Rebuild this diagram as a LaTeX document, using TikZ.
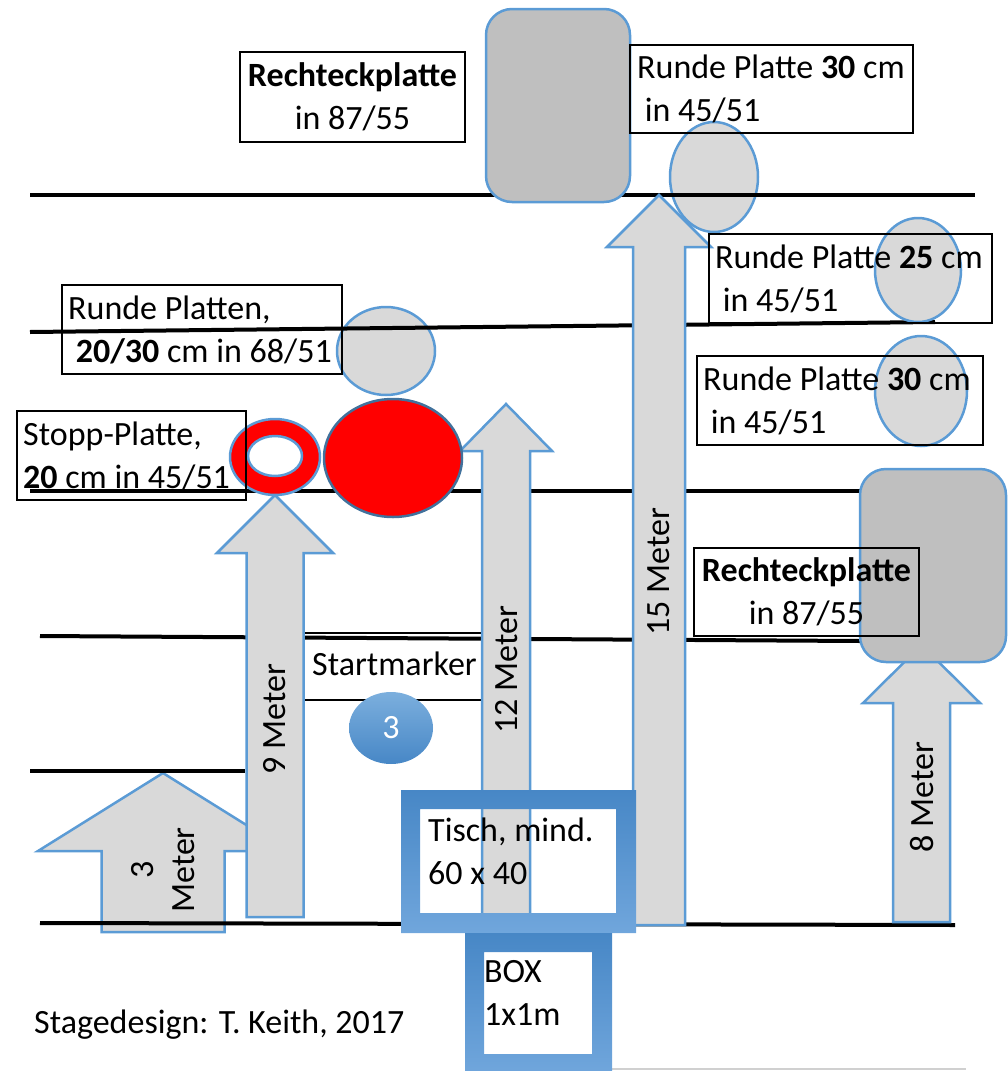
\documentclass[tikz,border=0pt]{standalone}
\usepackage{fontspec}
\setmainfont{Carlito}
\definecolor{platebg}{HTML}{D9D9D9}
\definecolor{rectbg}{HTML}{BFBFBF}
\definecolor{edgeblue}{HTML}{5B9BD5}
\definecolor{darkedge}{HTML}{41719C}
\definecolor{frametop}{HTML}{4787C6}
\definecolor{framebot}{HTML}{70A6DC}
\definecolor{faintline}{HTML}{D0D0D0}
\begin{document}
\begin{tikzpicture}[x=1pt,y=-1pt,font=\fontsize{34}{41}\selectfont,stage/.style={line width=4pt},arrowbody/.style={fill=platebg, draw=edgeblue, line width=2.5pt},plate/.style={fill=platebg, draw=edgeblue, line width=2.5pt},bigplate/.style={fill=rectbg, draw=edgeblue, line width=2.5pt, rounded corners=26pt},tbox/.style={draw, line width=2.5pt, anchor=north west, outer sep=0pt, inner sep=0pt, align=center},tlabel/.style={inner sep=0pt, align=left},meter/.style={rotate=90, inner sep=0pt, align=center},frame/.style={top color=frametop, bottom color=framebot, even odd rule}]
\newcommand{\stageArrow}[6]{\draw[arrowbody] (#1,#2) -- ({#1+#4},#3) -- ({#1+#5},#3) -- ({#1+#5},#6) -- ({#1-#5},#6) -- ({#1-#5},#3) -- ({#1-#4},#3) -- cycle;}
\newcommand{\ls}{\rule[-10pt]{0pt}{42pt}}
\useasboundingbox (0,0) rectangle (1007,1071);
\stageArrow{163}{773}{851}{125}{61.5}{932}
\draw[plate] (714,177) ellipse [x radius=44pt, y radius=55pt];\draw[plate] (386,351) ellipse [x radius=49pt, y radius=44pt];
\draw[stage] (30,195) -- (975,195);\draw[stage] (30,332) -- (935,322);\draw[stage] (30,491) -- (870,491);\draw[stage] (40,636) -- (860,641);\draw[stage] (30,771) -- (245,771);\draw[stage] (40,923) -- (955,925);
\draw[faintline, line width=1.5pt] (612,1069) -- (966,1069);
\draw[bigplate] (486,9) rectangle (630,202);
\node[tbox, minimum width=185pt, minimum height=67pt] (startBox) at (300,633) {};
\stageArrow{275}{495}{553}{58}{28.5}{917}
\stageArrow{506}{404}{451}{46}{24}{925}
\stageArrow{659}{195}{247}{52}{26}{925}
\stageArrow{921.5}{645}{703}{58.5}{28.5}{922}
\draw[bigplate] (860,469) rectangle (1006,662);
\draw[plate] (918,270) ellipse [x radius=43pt, y radius=52pt];\draw[plate] (921,391) ellipse [x radius=46pt, y radius=55pt];
\draw[fill=red, draw=edgeblue, line width=2.5pt, even odd rule] (275,457) ellipse [x radius=45pt, y radius=38pt] (275,456) ellipse [x radius=27pt, y radius=20pt];
\draw[fill=red, draw=darkedge, line width=2.5pt] (393,458) ellipse [x radius=69pt, y radius=59pt];
\shade[frame] (401,790) rectangle (636,933) (420,809) rectangle (616,913);
\shade[frame] (465,933) rectangle (612,1073) (484,952) rectangle (592,1054);
\shade[top color=edgeblue!80!white, bottom color=frametop] (391,728) ellipse [x radius=42pt, y radius=36pt];
\node[tbox, minimum width=225pt, minimum height=90pt] (rechteckTop) at (240,52) {\ls\textbf{Rechteckplatte}\\\ls in 87/55};
\node[tbox, minimum width=225pt, minimum height=88pt] (rechteckRight) at (694,548) {\ls\textbf{Rechteckplatte}\\\ls in 87/55};
\node[tbox, minimum width=283pt, minimum height=88pt] (runde30Top) at (630,45) {};
\node[tlabel, anchor=west] (runde30TopTxt) at ([xshift=7pt]runde30Top.west) {\ls Runde Platte \textbf{30} cm\\\ls\ in 45/51};
\node[tbox, minimum width=283pt, minimum height=89pt] (runde25) at (709,234) {};
\node[tlabel, anchor=west] (runde25Txt) at ([xshift=6pt]runde25.west) {\ls Runde Platte \textbf{25} cm\\\ls\ in 45/51};
\node[tbox, minimum width=286pt, minimum height=89pt] (runde30Low) at (697,356) {};
\node[tlabel, anchor=west] (runde30LowTxt) at ([xshift=6pt]runde30Low.west) {\ls Runde Platte \textbf{30} cm\\\ls\ in 45/51};
\node[tbox, minimum width=280pt, minimum height=89pt] (platten) at (62,285) {};
\node[tlabel, anchor=west] (plattenTxt) at ([xshift=6pt]platten.west) {\ls Runde Platten,\\\ls\ \textbf{20/30} cm in 68/51};
\node[tbox, minimum width=229pt, minimum height=89pt] (stopp) at (17,411) {};
\node[tlabel, anchor=west] (stoppTxt) at ([xshift=6pt]stopp.west) {\ls Stopp-Platte,\\\ls\textbf{20} cm in 45/51};
\node[tlabel, anchor=base west] (startTxt) at (312,675) {Startmarker};
\node[tlabel, text=white] (startNum) at (391,728) {3};
\node[tlabel, anchor=north west] (tischTxt) at (428,809) {\ls Tisch, mind.\\\ls 60 x 40};
\node[tlabel, anchor=north west] (boxTxt) at (484,950) {\ls BOX\\\ls 1x1m};
\node[meter] (lbl3) at (163,870) {3\\Meter};
\node[meter] (lbl9) at (275,719) {9 Meter};
\node[meter] (lbl12) at (507,670) {12 Meter};
\node[meter] (lbl15) at (659,572) {15 Meter};
\node[meter] (lbl8) at (922,797) {8 Meter};
\node[tlabel, anchor=base west] (credit) at (34,1033) {Stagedesign: T. Keith, 2017};
\end{tikzpicture}
\end{document}
